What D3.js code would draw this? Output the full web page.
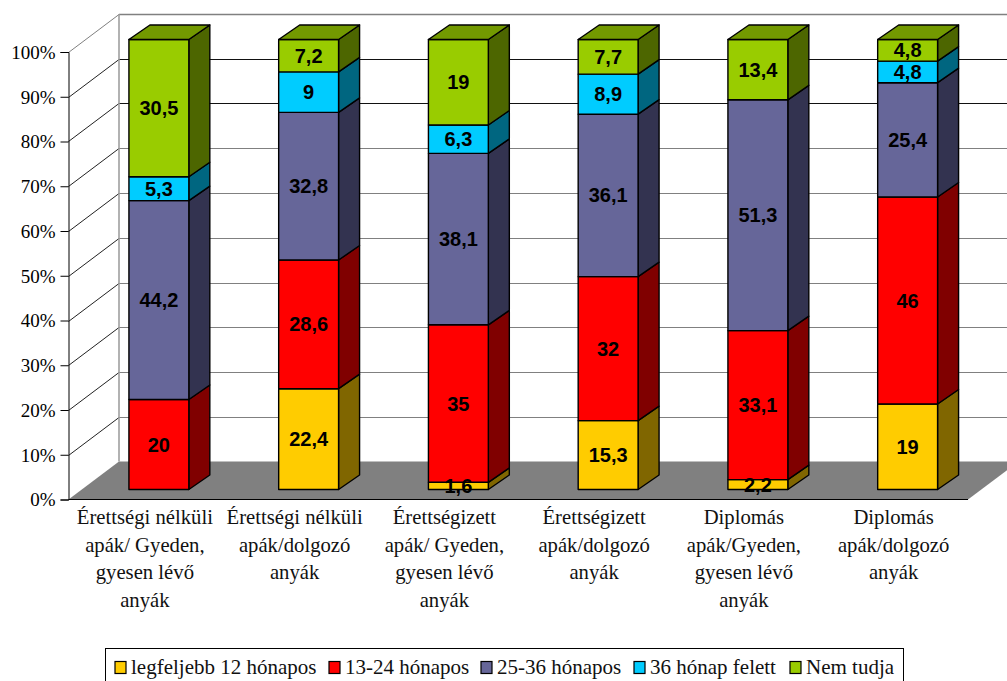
<!DOCTYPE html>
<html>
<head>
  <meta charset="utf-8">
  <title>Stacked 3D bars</title>
  <style>
    html, body { margin: 0; padding: 0; background: #fff; }
    svg { display: block; }
    .value { font-family: "Liberation Sans", sans-serif; font-weight: bold; font-size: 20px; fill: #000; }
  </style>
</head>
<body>
  <svg id="chart"></svg>
  <script src="https://d3js.org/d3.v7.min.js"></script>
  <script>
    // data
    const categories = [
      ["Érettségi nélküli", "apák/ Gyeden,", "gyesen lévő", "anyák"],
      ["Érettségi nélküli", "apák/dolgozó", "anyák"],
      ["Érettségizett", "apák/ Gyeden,", "gyesen lévő", "anyák"],
      ["Érettségizett", "apák/dolgozó", "anyák"],
      ["Diplomás", "apák/Gyeden,", "gyesen lévő", "anyák"],
      ["Diplomás", "apák/dolgozó", "anyák"]
    ];
    const seriesNames = ["legfeljebb 12 hónapos", "13-24 hónapos", "25-36 hónapos", "36 hónap felett", "Nem tudja"];
    const upTo12 = [0, 22.4, 1.6, 15.3, 2.2, 19];
    const m13to24 = [20, 28.6, 35, 32, 33.1, 46];
    const m25to36 = [44.2, 32.8, 38.1, 36.1, 51.3, 25.4];
    const over36 = [5.3, 9, 6.3, 8.9, 0, 4.8];
    const unknown = [30.5, 7.2, 19, 7.7, 13.4, 4.8];
    const tickValues = [0, 10, 20, 30, 40, 50, 60, 70, 80, 90, 100];

    const frontColors = ["#FFCC00", "#FF0000", "#666699", "#00CCFF", "#99CC00"];
    const sideColors = ["#806600", "#800000", "#333350", "#006680", "#4D6600"];
    const topColor = "#739900";
    const legendX = [115, 329, 481, 634, 790];
    const serif = '"Liberation Serif", serif';

    const width = 1007, height = 681;
    const svg = d3.select("#chart").attr("width", width).attr("height", height);

    // axis plane and back wall
    const y = d3.scaleLinear().domain([0, 100]).range([499.5, 52]);
    const wallDx = 50.5, wallDy = -38;
    const axisX = 68.5, floorRight = 968;

    // the bars sit in the middle of the floor depth
    const yBar = d3.scaleLinear().domain([0, 100]).range([489.5, 39.5]);
    const x = d3.scaleBand().domain(d3.range(categories.length)).range([84, 982.5]).paddingInner(0.6).paddingOuter(0.3);
    const barDx = 21, barDy = -14.5;

    const rows = categories.map((c, i) => ({
      i, s0: upTo12[i], s1: m13to24[i], s2: m25to36[i], s3: over36[i], s4: unknown[i]
    }));
    const stacked = d3.stack().keys(["s0", "s1", "s2", "s3", "s4"])(rows);

    const pts = a => a.map(p => p.join(",")).join(" ");

    // floor
    svg.append("polygon")
      .attr("points", pts([[axisX, y(0)], [axisX + wallDx, y(0) + wallDy], [floorRight + wallDx, y(0) + wallDy], [floorRight, y(0)]]))
      .attr("fill", "#808080");

    // gridlines, back wall + side wall
    tickValues.forEach(t => {
      const yy = Math.round(y(t)) + 0.5;
      const col = t >= 100 || t <= 70 ? "#808080" : "#111";
      if (t > 0) {
        svg.append("line").attr("x1", axisX + wallDx).attr("x2", width)
          .attr("y1", yy + wallDy).attr("y2", yy + wallDy)
          .attr("stroke", col).attr("stroke-width", t === 100 ? 1.5 : 1.2);
        svg.append("line").attr("x1", axisX).attr("x2", axisX + wallDx)
          .attr("y1", yy).attr("y2", yy + wallDy)
          .attr("stroke", t === 100 ? "#808080" : "#222").attr("stroke-width", 1);
      }
    });
    svg.append("line").attr("x1", axisX + wallDx).attr("x2", axisX + wallDx)
      .attr("y1", y(100) + wallDy).attr("y2", y(0) + wallDy)
      .attr("stroke", "#999").attr("stroke-width", 1.5);

    // bars
    const bars = svg.append("g").attr("stroke", "#000").attr("stroke-width", 1.4).attr("stroke-linejoin", "round");
    rows.forEach(r => {
      const x0 = x(r.i), x1 = x0 + x.bandwidth();
      stacked.forEach((layer, k) => {
        const d = layer[r.i];
        if (d[1] - d[0] <= 0) return;
        const yb = yBar(d[0]), yt = yBar(d[1]);
        bars.append("polygon")
          .attr("points", pts([[x1, yb], [x1 + barDx, yb + barDy], [x1 + barDx, yt + barDy], [x1, yt]]))
          .attr("fill", sideColors[k]);
        bars.append("rect").attr("x", x0).attr("y", yt).attr("width", x1 - x0).attr("height", yb - yt)
          .attr("fill", frontColors[k]);
      });
      bars.append("polygon")
        .attr("points", pts([[x0, yBar(100)], [x0 + barDx, yBar(100) + barDy], [x1 + barDx, yBar(100) + barDy], [x1, yBar(100)]]))
        .attr("fill", topColor);
    });

    // value labels go over everything
    rows.forEach(r => {
      stacked.forEach(layer => {
        const d = layer[r.i];
        const v = d[1] - d[0];
        if (v <= 0) return;
        svg.append("text").attr("class", "value")
          .attr("x", x(r.i) + x.bandwidth() / 2)
          .attr("y", yBar((d[0] + d[1]) / 2) + 7)
          .attr("text-anchor", "middle")
          .text(d3.format(".1f")(v).replace(/\.0$/, "").replace(".", ","));
      });
    });

    // y axis
    const axis = d3.axisLeft(y).tickValues(tickValues).tickFormat(d => d + "%").tickSize(8).tickPadding(5);
    const gAxis = svg.append("g").attr("transform", `translate(${axisX},0)`).call(axis);
    gAxis.selectAll("path,line").attr("stroke", "#000").attr("stroke-width", 1);
    gAxis.selectAll("text").style("font-family", serif).attr("font-size", 19).attr("dy", "0.33em");

    // floor front edge
    svg.append("line").attr("x1", axisX).attr("x2", floorRight).attr("y1", 499.5).attr("y2", 499.5)
      .attr("stroke", "#000").attr("stroke-width", 1.2);

    // category labels, they sit a bit left of the bar centre
    categories.forEach((lines, i) => {
      const t = svg.append("text").style("font-family", serif).attr("font-size", 20.7)
        .attr("fill", "#111").attr("text-anchor", "middle");
      lines.forEach((l, j) => {
        t.append("tspan").attr("x", x(i) + x.bandwidth() / 2 - 14).attr("y", 524 + j * 27.5).text(l);
      });
    });

    // legend
    svg.append("rect").attr("x", 105.5).attr("y", 648.5).attr("width", 798).attr("height", 40)
      .attr("fill", "#fff").attr("stroke", "#000").attr("stroke-width", 1);
    seriesNames.forEach((name, k) => {
      svg.append("rect").attr("x", legendX[k]).attr("y", 661.5).attr("width", 11).attr("height", 12)
        .attr("fill", frontColors[k]).attr("stroke", "#000").attr("stroke-width", 1.2);
      svg.append("text").style("font-family", serif).attr("font-size", 21).attr("fill", "#111")
        .attr("x", legendX[k] + 16).attr("y", 674).text(name);
    });
  </script>
</body>
</html>
